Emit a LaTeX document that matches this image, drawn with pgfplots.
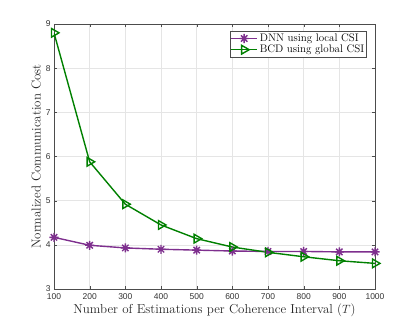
\documentclass[border=0pt]{standalone}
\usepackage{fontspec}
\usepackage{pgfplots}
\pgfplotsset{compat=1.18}
\newfontfamily\ticksf{Liberation Sans}
\definecolor{mpurple}{rgb}{0.494,0.184,0.556}
\definecolor{mgreen}{rgb}{0,0.5,0}
% MATLAB-like eight-armed asterisk
\pgfdeclareplotmark{matstar}{%
  \pgfpathmoveto{\pgfqpoint{-\pgfplotmarksize}{0pt}}\pgfpathlineto{\pgfqpoint{\pgfplotmarksize}{0pt}}%
  \pgfpathmoveto{\pgfqpoint{0pt}{-\pgfplotmarksize}}\pgfpathlineto{\pgfqpoint{0pt}{\pgfplotmarksize}}%
  \pgfpathmoveto{\pgfqpoint{-0.707\pgfplotmarksize}{-0.707\pgfplotmarksize}}\pgfpathlineto{\pgfqpoint{0.707\pgfplotmarksize}{0.707\pgfplotmarksize}}%
  \pgfpathmoveto{\pgfqpoint{-0.707\pgfplotmarksize}{0.707\pgfplotmarksize}}\pgfpathlineto{\pgfqpoint{0.707\pgfplotmarksize}{-0.707\pgfplotmarksize}}%
  \pgfusepathqstroke}
\begin{document}
\begin{tikzpicture}[x=1bp,y=1bp]
% page frame, same size as the reference
\path (0,0) rectangle (415,325);
\begin{axis}[
    at={(54bp,36bp)},
    anchor=south west,
    width=321bp, height=265bp,
    scale only axis,
    xmin=100, xmax=1000,
    ymin=3, ymax=9,
    xtick={100,200,...,1000},
    ytick={3,4,...,9},
    grid=major,
    major grid style={gray!20, line width=0.5pt},
    axis line style={black!70, line width=0.6pt},
    tick style={black!70},
    tick align=inside,
    xtick pos=both, ytick pos=both,
    major tick length=3bp,
    ticklabel style={font=\ticksf\fontsize{8.5}{10}\selectfont, text=black!80},
    xticklabel style={yshift=-1bp},
    /pgf/number format/assume math mode=true,
    /pgf/number format/1000 sep={},
    xlabel={Number of Estimations per Coherence Interval ($T$)},
    ylabel={Normalized Communication Cost},
    label style={font=\fontsize{13}{15}\selectfont, text=black!85},
    xlabel style={yshift=3bp},
    ylabel style={yshift=-2bp},
    legend style={font=\fontsize{11}{13}\selectfont, draw=black!70, line width=0.5pt,
                  inner sep=0.5pt, row sep=-2pt, at={(0.975,0.973)}, anchor=north east},
    legend cell align=left,
    legend image code/.code={%
        \draw[mark repeat=2, mark phase=2] plot coordinates {(0bp,0bp) (13bp,0bp) (26bp,0bp)};},
]
\addplot[mpurple, line width=1.4pt, mark=matstar, mark size=4.5bp, mark options={line width=1.4pt}]
coordinates {
    (100,4.17) (200,3.99) (300,3.93) (400,3.90) (500,3.88)
    (600,3.86) (700,3.85) (800,3.85) (900,3.84) (1000,3.84)
};
\addlegendentry{DNN using local CSI}
\addplot[mgreen, line width=1.4pt, mark=triangle, mark size=5bp, mark options={rotate=-90, line width=1.4pt}]
coordinates {
    (100,8.80) (200,5.88) (300,4.92) (400,4.45) (500,4.14)
    (600,3.95) (700,3.83) (800,3.73) (900,3.64) (1000,3.58)
};
\addlegendentry{BCD using global CSI}
\end{axis}
\end{tikzpicture}
\end{document}
